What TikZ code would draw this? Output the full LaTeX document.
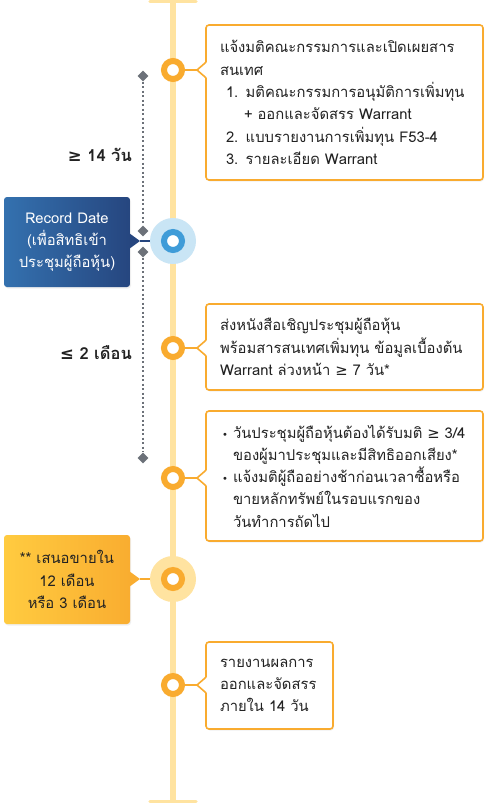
\documentclass[tikz,border=0pt]{standalone}
\usepackage{fontspec}
\usepackage{xcolor}
\usetikzlibrary{shapes.geometric,shadows}
\setmainfont[Script=Thai]{Loma}
\newfontfamily\symfont{DejaVu Sans}
\newcommand\sym[1]{{\symfont #1}}
\definecolor{TLOrange}{HTML}{F9AB2F}
\definecolor{TLTrack}{HTML}{FFE3A0}
\definecolor{TLBlue}{HTML}{3F9CD8}
\definecolor{TLHaloBlue}{HTML}{C9E5F5}
\definecolor{TLHaloGold}{HTML}{FFE3A0}
\definecolor{TLNavyL}{HTML}{3471AF}
\definecolor{TLNavyR}{HTML}{26467F}
\definecolor{TLGoldL}{HTML}{FFCB40}
\definecolor{TLGoldR}{HTML}{F9AD30}
\definecolor{TLGrey}{HTML}{6C7179}
\definecolor{TLText}{HTML}{222222}

\begin{document}
\begin{tikzpicture}[x=1pt,y=-1pt,
  every node/.style={font=\fontsize{14.8}{22.3}\selectfont,text=TLText},
  track/.style={draw=TLTrack,line width=6pt},
  bar/.style={draw=TLTrack,line width=3.5pt,line cap=round},
  ring/.style={circle,draw=#1,fill=white,line width=6pt,minimum size=18pt,inner sep=0pt},
  halo/.style={circle,fill=#1,minimum size=46pt,inner sep=0pt},
  notebox/.style={draw=TLOrange,line width=1.6pt,fill=white,rounded corners=3pt,
    inner xsep=14pt,inner ysep=0pt,align=left,
    drop shadow={opacity=0.12,shadow xshift=1pt,shadow yshift=-1.5pt}},
  tagbox/.style={rounded corners=3pt,align=center,inner sep=0pt,
    minimum width=126pt,shading=axis,shading angle=90,
    drop shadow={opacity=0.12,shadow xshift=1pt,shadow yshift=-1.5pt}},
  link/.style={draw=#1,line width=2pt},
  gapline/.style={draw=TLGrey,line width=2pt,dash pattern=on 2pt off 2.5pt},
  tick/.style={diamond,fill=TLGrey,minimum size=11pt,inner sep=0pt},
  gaplabel/.style={anchor=east,inner sep=0pt,font=\bfseries\fontsize{16.5}{20}\selectfont}]
\path[use as bounding box] (0,0) rectangle (490,804);
\fill[white] (0,0) rectangle (490,804);

\coordinate (top) at (173,1.5);
\coordinate (bot) at (173,801.5);
\draw[track] (173,0) -- (173,802);
\draw[bar] ([xshift=-23pt]top) -- ([xshift=23pt]top);
\draw[bar] ([xshift=-23pt]bot) -- ([xshift=23pt]bot);

\node[tick] (d1) at (143,76) {};
\node[tick] (d2) at (143,231) {};
\node[tick] (d3) at (143,252) {};
\node[tick] (d4) at (143,458) {};
\draw[gapline] (d1) -- (d2);
\draw[gapline] (d3) -- (d4);
\node[gaplabel] (gap1) at (132,155) {\sym{≥} 14 วัน};
\node[gaplabel] (gap2) at (132,353) {\sym{≤} 2 เดือน};

\node[notebox,minimum width=277pt,minimum height=155pt,text width=249pt] (b1) at (344.5,102.5)
  {แจ้งมติคณะกรรมการและเปิดเผยสาร\\สนเทศ\\
   \hspace*{6pt}1. มติคณะกรรมการอนุมัติการเพิ่มทุน\\
   \hspace*{24pt}+ ออกและจัดสรร Warrant\\
   \hspace*{6pt}2. แบบรายงานการเพิ่มทุน F53-4\\
   \hspace*{6pt}3. รายละเอียด Warrant};
\node[notebox,minimum width=277pt,minimum height=86pt,text width=249pt] (b2) at (344.5,347)
  {ส่งหนังสือเชิญประชุมผู้ถือหุ้น\\
   พร้อมสารสนเทศเพิ่มทุน ข้อมูลเบื้องต้น\\
   Warrant ล่วงหน้า \sym{≥} 7 วัน*};
\node[notebox,minimum width=277pt,minimum height=130pt,text width=249pt] (b3) at (344.5,476)
  {\hspace*{2pt}\makebox[11pt][l]{\sym{\fontsize{10}{10}\selectfont •}}วันประชุมผู้ถือหุ้นต้องได้รับมติ \sym{≥} 3/4\\
   \hspace*{13pt}ของผู้มาประชุมและมีสิทธิออกเสียง*\\
   \hspace*{2pt}\makebox[11pt][l]{\sym{\fontsize{10}{10}\selectfont •}}แจ้งมติผู้ถืออย่างช้าก่อนเวลาซื้อหรือ\\
   \hspace*{13pt}ขายหลักทรัพย์ในรอบแรกของ\\
   \hspace*{13pt}วันทำการถัดไป};
\node[notebox,minimum width=127pt,minimum height=87pt,text width=99pt] (b5) at (269.5,685.5)
  {รายงานผลการ\\ออกและจัดสรร\\ภายใน 14 วัน};

\node[tagbox,left color=TLNavyL,right color=TLNavyR,minimum height=90pt,text=white] (rd) at (67,242)
  {Record Date\\(เพื่อสิทธิเข้า\\ประชุมผู้ถือหุ้น)};
\node[tagbox,left color=TLGoldL,right color=TLGoldR,minimum height=89pt] (offer) at (67,579.5)
  {** เสนอขายใน\\12 เดือน\\หรือ 3 เดือน};

\node[halo=TLHaloBlue] (h2) at (173,241) {};
\node[halo=TLHaloGold] (h4) at (173,579) {};

\coordinate (p1) at (197,70);
\coordinate (p2) at (197,348);
\coordinate (p3) at (197,478);
\coordinate (p5) at (197,685);
\coordinate (prd) at (140,241);
\coordinate (poffer) at (140,579);

\foreach \y in {70,348,478,685}{
  \fill[white] (205,\y-8) rectangle (207.5,\y+8);
  \filldraw[fill=white,draw=TLOrange,line width=1.6pt] (206.2,\y-8) -- (197,\y) -- (206.2,\y+8);
}
\fill[TLNavyR] (129,233) -- (prd) -- (129,249) -- cycle;
\fill[TLGoldR] (129,571) -- (poffer) -- (129,587) -- cycle;

\node[ring=TLOrange] (c1) at (173,70) {};
\node[ring=TLBlue] (c2) at (173,241) {};
\node[ring=TLOrange] (c3) at (173,348) {};
\node[ring=TLOrange] (c4) at (173,478) {};
\node[ring=TLOrange] (c5) at (173,579) {};
\node[ring=TLOrange] (c6) at (173,685) {};

\draw[link=TLOrange] (c1) -- (p1);
\draw[link=TLOrange] (c3) -- (p2);
\draw[link=TLOrange] (c4) -- (p3);
\draw[link=TLOrange] (c6) -- (p5);
\draw[link=TLNavyR] (prd) -- (h2);
\draw[link=TLOrange] (poffer) -- (h4);
\end{tikzpicture}
\end{document}
